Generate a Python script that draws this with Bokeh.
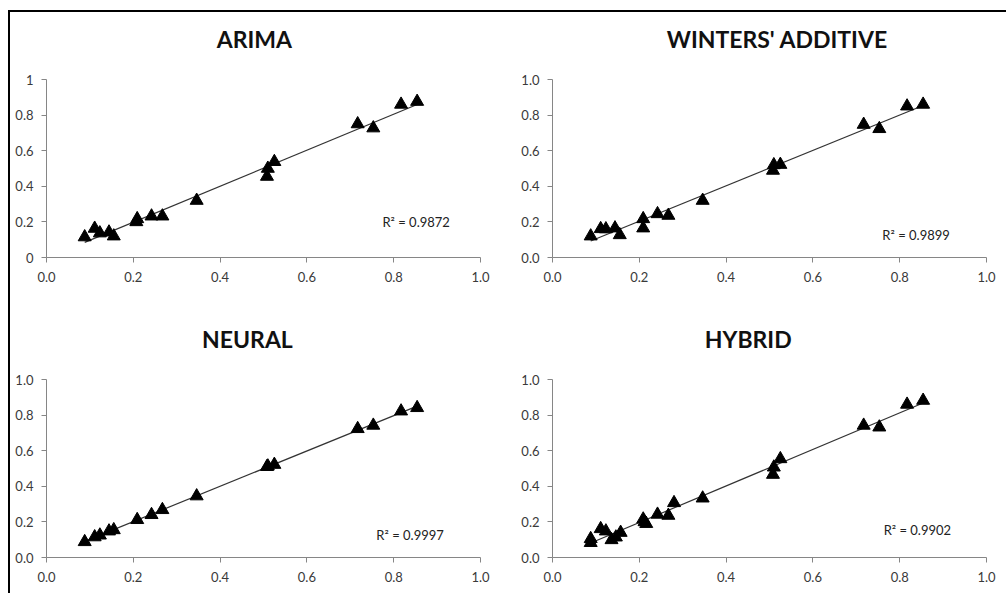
import numpy as np
from bokeh.plotting import figure
from bokeh.layouts import column, row
from bokeh.models import Label, FixedTicker, Range1d
from bokeh.embed import file_html
from bokeh.resources import INLINE

# ---------------- data ----------------
titles = ["ARIMA", "WINTERS' ADDITIVE", "NEURAL", "HYBRID"]
r2_labels = ["R\u00b2 = 0.9872", "R\u00b2 = 0.9899", "R\u00b2 = 0.9997", "R\u00b2 = 0.9902"]

arima_x = [0.088, 0.111, 0.123, 0.144, 0.155, 0.207, 0.209, 0.242, 0.267, 0.346,
           0.508, 0.510, 0.525, 0.717, 0.753, 0.817, 0.854]
arima_y = [0.115, 0.163, 0.137, 0.142, 0.120, 0.200, 0.217, 0.232, 0.232, 0.320,
           0.455, 0.500, 0.538, 0.750, 0.727, 0.860, 0.876]

winters_x = [0.088, 0.111, 0.123, 0.144, 0.155, 0.209, 0.209, 0.242, 0.267, 0.346,
             0.508, 0.510, 0.525, 0.717, 0.753, 0.817, 0.854]
winters_y = [0.120, 0.161, 0.160, 0.165, 0.127, 0.217, 0.165, 0.245, 0.236, 0.320,
             0.489, 0.520, 0.522, 0.747, 0.723, 0.850, 0.860]

neural_x = [0.088, 0.111, 0.123, 0.144, 0.155, 0.209, 0.242, 0.267, 0.346,
            0.508, 0.510, 0.525, 0.717, 0.753, 0.817, 0.854]
neural_y = [0.088, 0.115, 0.125, 0.148, 0.155, 0.212, 0.240, 0.268, 0.345,
            0.510, 0.513, 0.522, 0.723, 0.742, 0.822, 0.841]

hybrid_x = [0.088, 0.088, 0.111, 0.123, 0.136, 0.146, 0.157, 0.209, 0.212, 0.216,
            0.242, 0.267, 0.280, 0.346, 0.508, 0.510, 0.525, 0.717, 0.753, 0.817, 0.854]
hybrid_y = [0.105, 0.083, 0.161, 0.148, 0.099, 0.114, 0.140, 0.215, 0.200, 0.190,
            0.242, 0.236, 0.307, 0.333, 0.466, 0.507, 0.554, 0.742, 0.732, 0.860, 0.882]

ticks = [0.0, 0.2, 0.4, 0.6, 0.8, 1.0]
x_tick_labels = ["0.0", "0.2", "0.4", "0.6", "0.8", "1.0"]
y_tick_labels_first = ["0", "0.2", "0.4", "0.6", "0.8", "1"]
y_tick_labels_other = ["0.0", "0.2", "0.4", "0.6", "0.8", "1.0"]

series = [(arima_x, arima_y), (winters_x, winters_y), (neural_x, neural_y), (hybrid_x, hybrid_y)]

# positions (layout only)
Y_TOP = 237.0 / 178.0          # frame extends above 1.0 to hold the title
title_pos = [(0.479, 1.225), (0.518, 1.225), (0.463, 1.225), (0.451, 1.225)]
r2_pos = [(0.774, 0.202), (0.760, 0.129), (0.760, 0.124), (0.763, 0.157)]
sizes = [(506, 300, 36, 36, 8, 55), (490, 300, 36, 20, 8, 55),
         (506, 281, 36, 36, 8, 36), (490, 281, 36, 20, 8, 36)]

FONT = "Lato"
AXIS_COLOR = "#868686"
LABEL_COLOR = "#3a3a3a"

figs = []
for i in range(4):
    w, h, bl, br, bt, bb = sizes[i]
    p = figure(width=w, height=h, output_backend="svg", toolbar_location=None,
               x_range=Range1d(0, 1), y_range=Range1d(0, Y_TOP),
               min_border_left=bl, min_border_right=br,
               min_border_top=bt, min_border_bottom=bb)
    p.outline_line_color = None
    p.grid.visible = False
    p.background_fill_color = "white"
    p.border_fill_color = "white"

    for ax in (p.xaxis[0], p.yaxis[0]):
        ax.ticker = FixedTicker(ticks=ticks)
        ax.bounds = (0, 1)
        ax.minor_tick_line_color = None
        ax.axis_line_color = AXIS_COLOR
        ax.major_tick_line_color = AXIS_COLOR
        ax.major_tick_out = 5
        ax.major_tick_in = 0
        ax.major_label_text_font = FONT
        ax.major_label_text_font_size = "13px"
        ax.major_label_text_color = LABEL_COLOR
    p.xaxis[0].major_label_overrides = {t: l for t, l in zip(ticks, x_tick_labels)}
    ylabels = y_tick_labels_first if i == 0 else y_tick_labels_other
    p.yaxis[0].major_label_overrides = {t: l for t, l in zip(ticks, ylabels)}
    p.xaxis[0].major_label_standoff = 9
    p.yaxis[0].major_label_standoff = 8

    xs, ys = series[i]
    xa = np.array(xs)
    ya = np.array(ys)
    m, c = np.polyfit(xa, ya, 1)
    x0, x1 = xa.min(), xa.max()
    p.line([x0, x1], [m * x0 + c, m * x1 + c], line_color="#333333", line_width=1.2)
    p.scatter(xs, ys, marker="triangle", size=13, fill_color="black", line_color="black")

    tx, ty = title_pos[i]
    p.add_layout(Label(x=tx, y=ty, text=titles[i], text_font=FONT, text_font_style="bold",
                       text_font_size="23px", text_align="center", text_baseline="middle",
                       text_color="#111111"))
    rx, ry = r2_pos[i]
    p.add_layout(Label(x=rx, y=ry, text=r2_labels[i], text_font=FONT,
                       text_font_size="13px", text_align="left", text_baseline="middle",
                       text_color="#222222"))
    figs.append(p)

layout = column(row(figs[0], figs[1]), row(figs[2], figs[3]),
                styles={"border-top": "2px solid black", "border-left": "2px solid black",
                        "margin-left": "8px", "margin-top": "10px"})

open("out.html", "w").write(file_html(layout, INLINE))
